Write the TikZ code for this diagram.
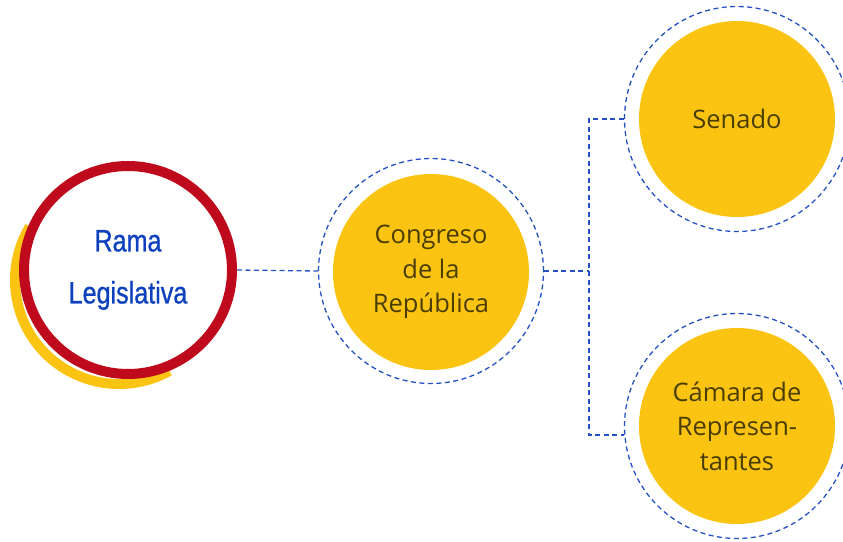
\documentclass[tikz,border=0pt]{standalone}
\usepackage{fontspec}
\setmainfont{Open Sans}
\newfontfamily\condfont[FakeStretch=0.81,FakeBold=0.8]{Liberation Sans}
\definecolor{ringred}{HTML}{BE0A1C}
\definecolor{ringyel}{HTML}{FBC412}
\definecolor{circyel}{HTML}{FBC412}
\definecolor{txtbrown}{HTML}{4A3D02}
\definecolor{txtblue}{HTML}{0E41BE}
\definecolor{dashblue}{HTML}{2452C4}
\tikzset{
  dashring/.style={circle, draw=dashblue, line width=1.3pt, dash pattern=on 5pt off 3.5pt, minimum size=225pt, inner sep=0pt},
  yelcirc/.style={circle, fill=circyel, minimum size=196pt, inner sep=0pt, text=txtbrown, align=center,
    font=\fontsize{25.5pt}{34.5pt}\selectfont},
  conn/.style={draw=dashblue, line width=1.3pt, dash pattern=on 5pt off 3.5pt},
}
\begin{document}
\begin{tikzpicture}[x=1pt,y=-1pt]
\useasboundingbox (0,0) rectangle (843,541);
% left element
\coordinate (yc) at (119,280);
\draw[ringyel, line width=10pt] ([shift={(-149:104)}]yc) arc[start angle=-149, end angle=-299, radius=104];
\node[circle, draw=ringred, fill=white, line width=10pt, minimum size=208pt, inner sep=0pt,
  text=txtblue, align=center, font=\condfont\fontsize{31pt}{52pt}\selectfont] (lc) at (128,270) {\raisebox{-3pt}{Rama}\\\raisebox{-3pt}{Legislativa}};
% middle
\node[dashring] (cong) at (431,271) {};
\node[yelcirc] (congi) at (431,272) {Congreso\\de la\\República};
% right
\node[dashring] (sen) at (737,119) {};
\node[yelcirc] (seni) at (737,119) {Senado};
\node[dashring] (cam) at (737,426) {};
\node[yelcirc] (cami) at (737,426) {Cámara de\\Represen-\\tantes};
% connectors
\coordinate (j) at (589,271);
\coordinate (jt) at (589,119);
\coordinate (jb) at (589,435);
\draw[conn] (lc.east) -- (cong.west);
\draw[conn] (cong.east) -- (j);
\draw[conn] (sen.west) -- (jt) -- (jb) -- (cam.west |- jb);
\end{tikzpicture}
\end{document}
